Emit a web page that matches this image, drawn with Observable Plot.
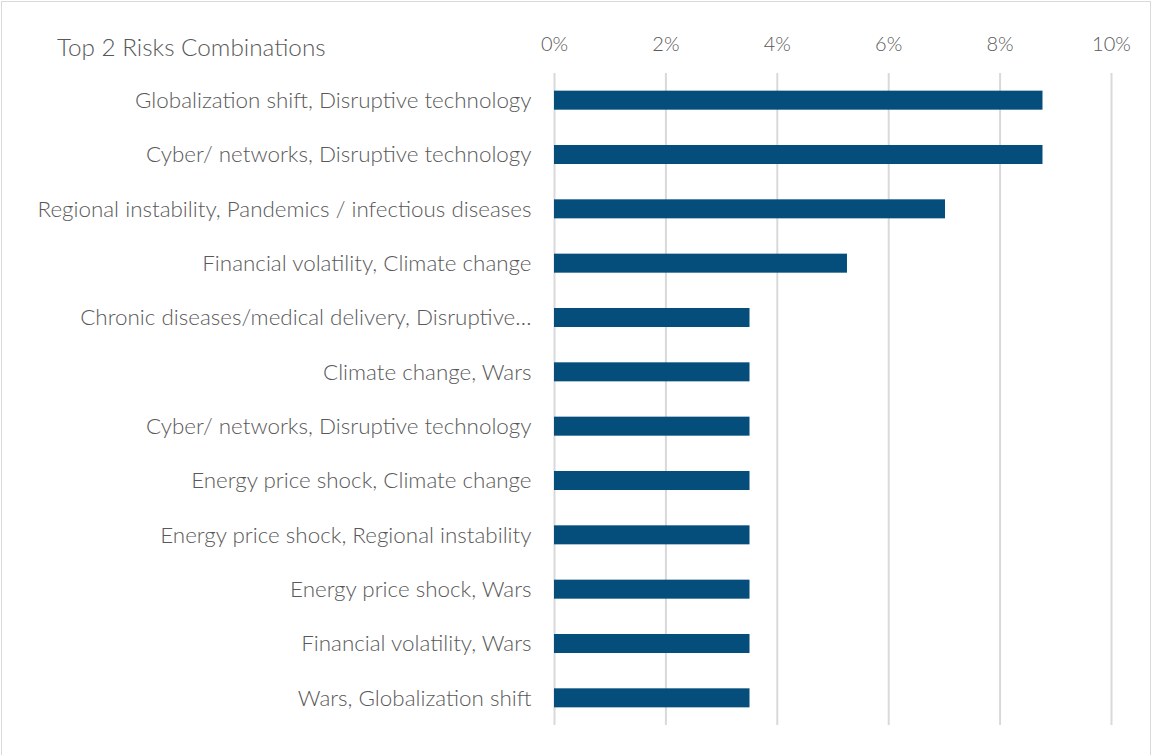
<!DOCTYPE html>
<html>
<head>
<meta charset="utf-8">
<script src="https://cdn.jsdelivr.net/npm/d3@7"></script>
<script src="https://cdn.jsdelivr.net/npm/@observablehq/plot@0.6"></script>
<style>
  html, body { margin: 0; padding: 0; background: #fff; }
  #wrap { position: relative; width: 1154px; height: 755px; overflow: hidden; }
  #frame { position: absolute; left: 1px; top: 1px; width: 1150px; height: 760px; border: 1.5px solid #d9d9d9; box-sizing: border-box; pointer-events: none; }
  #title { position: absolute; left: 57px; top: 32px; line-height: 30px; font-family: Lato, sans-serif; font-weight: 300; font-size: 24.3px; color: #595959; white-space: nowrap; }
</style>
</head>
<body>
<div id="wrap">
  <div id="chart"></div>
  <div id="title">Top 2 Risks Combinations</div>
  <div id="frame"></div>
</div>
<script>
const categories = [
  "Globalization shift, Disruptive technology",
  "Cyber/ networks, Disruptive technology",
  "Regional instability, Pandemics / infectious diseases",
  "Financial volatility, Climate change",
  "Chronic diseases/medical delivery, Disruptive…",
  "Climate change, Wars",
  "Cyber/ networks, Disruptive technology",
  "Energy price shock, Climate change",
  "Energy price shock, Regional instability",
  "Energy price shock, Wars",
  "Financial volatility, Wars",
  "Wars, Globalization shift"
];
const values = [0.0877, 0.0877, 0.0702, 0.0526, 0.0351, 0.0351, 0.0351, 0.0351, 0.0351, 0.0351, 0.0351, 0.0351];
const xTicks = [0, 0.02, 0.04, 0.06, 0.08, 0.10];

const data = categories.map((c, i) => ({ id: i, label: c, value: values[i] }));

const chart = Plot.plot({
  width: 1154,
  height: 755,
  marginLeft: 554,
  marginRight: 43,
  marginTop: 73,
  marginBottom: 30,
  style: { fontFamily: "Lato, sans-serif", fontWeight: 300, color: "#595959", background: "transparent" },
  x: { domain: [0, 0.10], label: null },
  y: { domain: data.map(d => d.id), paddingInner: 0.65, paddingOuter: 0.325, round: false, label: null },
  marks: [
    Plot.ruleX(xTicks, { stroke: "#d9d9d9", strokeWidth: 2 }),
    Plot.axisX({ anchor: "top", ticks: xTicks, tickFormat: d => Math.round(d * 100) + "%", tickSize: 0, tickPadding: 23, fontSize: 20, label: null }),
    Plot.axisY({ tickSize: 0, tickPadding: 23, fontSize: 22.4, tickFormat: i => categories[i], label: null }),
    Plot.barX(data, { x: "value", y: "id", fill: "#054e7c" })
  ]
});
document.getElementById("chart").appendChild(chart);
</script>
</body>
</html>
